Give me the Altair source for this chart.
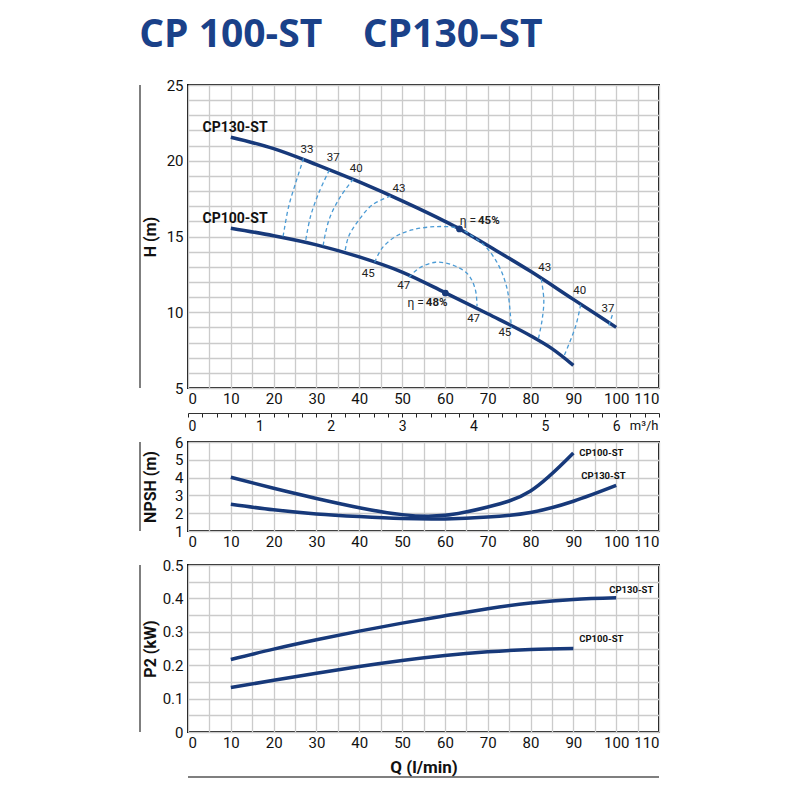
import altair as alt
import pandas as pd

# ---------------- data ----------------
TITLE_TEXT = "CP 100-ST\u00a0\u00a0\u00a0\u00a0CP130\u2013ST"

# Head curves H (m) vs Q (l/min)
Q_130 = [10, 20, 30, 40, 50, 60, 63.4, 70, 80, 90, 100]
H_130 = [21.55, 20.8, 19.75, 18.6, 17.35, 16.0, 15.5, 14.4, 12.7, 10.85, 9.0]
Q_100 = [10, 20, 30, 40, 50, 60, 70, 80, 85, 90]
H_100 = [15.55, 15.05, 14.45, 13.65, 12.65, 11.3, 9.9, 8.45, 7.6, 6.5]

# Iso-efficiency (dashed) curves
ARC_NAMES = ["33", "37", "40", "43a", "45", "47", "43b", "40b", "37b"]
ARC_Q = [
    [27.0, 25.1, 23.5, 22.6, 22.2],
    [33.0, 30.5, 28.6, 27.4],
    [38.6, 35.6, 33.2, 32.1, 31.5],
    [47.3, 43.0, 39.9, 37.5, 36.6],
    [43.6, 45.3, 48.4, 52.3, 57.8, 63.2, 66.5, 69.5, 72.5, 74.5, 75.3, 75.5],
    [51.6, 53.9, 57.8, 62.0, 65.4, 67.1, 67.5],
    [82.5, 83.1, 82.7, 81.8],
    [91.7, 90.5, 87.8],
    [99.1, 98.1],
]
ARC_H = [
    [20.16, 18.5, 16.97, 15.65, 15.0],
    [19.39, 17.85, 16.31, 14.6],
    [18.78, 17.63, 16.31, 15.21, 14.3],
    [17.67, 17.08, 16.09, 14.99, 13.9],
    [13.3, 14.22, 14.99, 15.43, 15.65, 15.54, 15.0, 14.33, 13.12, 11.58, 9.82, 8.94],
    [12.3, 12.9, 13.3, 13.1, 12.5, 11.5, 10.4],
    [12.2, 10.81, 9.49, 8.2],
    [10.5, 9.05, 7.1],
    [9.82, 8.94],
]

# Efficiency labels
EFF_TEXT = ["33", "37", "40", "43", "45", "47", "47", "45", "43", "40", "37"]
EFF_Q = [27.8, 33.9, 39.3, 49.3, 42.1, 50.4, 66.7, 74.0, 83.3, 91.5, 98.1]
EFF_H = [20.7, 20.18, 19.46, 18.13, 12.5, 11.7, 9.53, 8.66, 12.9, 11.4, 10.2]

# Best-efficiency points
BEP_TEXT = ["45%", "48%"]
BEP_Q = [63.4, 60.1]
BEP_H = [15.5, 11.27]
BEP_LABEL_Q = [67.5, 55.3]
BEP_LABEL_H = [16.0, 10.6]

# Curve names in head chart
HEAD_NAMES = ["CP130-ST", "CP100-ST"]
HEAD_NAME_Q = [11, 11]
HEAD_NAME_H = [22.16, 16.15]

# m3/h secondary scale
M3H_TICKS = [round(i * 0.2, 1) for i in range(34)]

# NPSH (m)
Q_NPSH_100 = [10, 20, 30, 40, 50, 60, 70, 80, 90]
NPSH_100 = [4.02, 3.4, 2.83, 2.31, 1.92, 1.88, 2.35, 3.25, 5.38]
Q_NPSH_130 = [10, 20, 30, 40, 50, 60, 70, 80, 90, 100]
NPSH_130 = [2.5, 2.19, 1.96, 1.81, 1.7, 1.68, 1.78, 2.04, 2.67, 3.56]
NPSH_NAMES = ["CP100-ST", "CP130-ST"]
NPSH_NAME_Q = [90.9, 91.4]
NPSH_NAME_V = [5.38, 4.09]

# P2 (kW)
Q_P2_130 = [10, 20, 30, 40, 50, 60, 70, 80, 90, 100]
P2_130 = [0.217, 0.248, 0.276, 0.302, 0.326, 0.348, 0.369, 0.386, 0.397, 0.402]
Q_P2_100 = [10, 20, 30, 40, 50, 60, 70, 80, 90]
P2_100 = [0.133, 0.155, 0.176, 0.196, 0.214, 0.229, 0.24, 0.247, 0.25]
P2_NAMES = ["CP130-ST", "CP100-ST"]
P2_NAME_Q = [97.9, 90.9]
P2_NAME_V = [0.425, 0.278]

# ---------------- styling ----------------
NAVY = "#17397a"
DASH = "#4b9bd5"
TITLE_BLUE = "#1a4189"
FONT = "Roboto"
W = 471
H_TOP, H_NPSH, H_P2 = 303, 89, 167

# ---------------- tables ----------------
df_head = pd.concat([
    pd.DataFrame({"Q": Q_130, "H": H_130, "pump": "CP130-ST"}),
    pd.DataFrame({"Q": Q_100, "H": H_100, "pump": "CP100-ST"}),
])
arc_rows = []
for name, qs, hs in zip(ARC_NAMES, ARC_Q, ARC_H):
    for i, (q, h) in enumerate(zip(qs, hs)):
        arc_rows.append({"arc": name, "ord": i, "Q": q, "H": h})
df_arcs = pd.DataFrame(arc_rows)
df_eff = pd.DataFrame({"t": EFF_TEXT, "Q": EFF_Q, "H": EFF_H})
df_bep = pd.DataFrame({"t": BEP_TEXT, "Q": BEP_Q, "H": BEP_H})
df_bep_lab = pd.DataFrame({"t": BEP_TEXT, "Q": BEP_LABEL_Q, "H": BEP_LABEL_H})
df_hname = pd.DataFrame({"t": HEAD_NAMES, "Q": HEAD_NAME_Q, "H": HEAD_NAME_H})
df_m3h = pd.DataFrame({"m3h": M3H_TICKS})

df_npsh = pd.concat([
    pd.DataFrame({"Q": Q_NPSH_100, "V": NPSH_100, "pump": "CP100-ST"}),
    pd.DataFrame({"Q": Q_NPSH_130, "V": NPSH_130, "pump": "CP130-ST"}),
])
df_npsh_names = pd.DataFrame({"t": NPSH_NAMES, "Q": NPSH_NAME_Q, "V": NPSH_NAME_V})
df_p2 = pd.concat([
    pd.DataFrame({"Q": Q_P2_130, "V": P2_130, "pump": "CP130-ST"}),
    pd.DataFrame({"Q": Q_P2_100, "V": P2_100, "pump": "CP100-ST"}),
])
df_p2_names = pd.DataFrame({"t": P2_NAMES, "Q": P2_NAME_Q, "V": P2_NAME_V})


def x_enc(field="Q", title=None, **kw):
    return alt.X(
        f"{field}:Q",
        scale=alt.Scale(domain=[0, 110], nice=False),
        axis=alt.Axis(
            values=list(range(0, 111, 5)),
            labelExpr="datum.value % 10 === 0 ? datum.label : ''",
            ticks=False, domain=False, grid=True, labelPadding=3,
            title=title, **kw,
        ),
    )


def side_rule(h):
    return alt.Chart(pd.DataFrame({"a": [0]})).mark_rule(color="#555", strokeWidth=1.5).encode(
        x=alt.value(-48), y=alt.value(0), y2=alt.value(h)
    )


# ---------------- head chart ----------------
yH = alt.Y(
    "H:Q",
    scale=alt.Scale(domain=[5, 25], nice=False),
    axis=alt.Axis(
        values=list(range(5, 26)),
        labelExpr="datum.value % 5 === 0 ? datum.label : ''",
        ticks=False, domain=False, grid=True, labelPadding=5,
        title="H (m)", titleX=-38, titleY=H_TOP / 2, titleAngle=270,
        titleAlign="center", titleBaseline="middle",
    ),
)
xH = x_enc()

head_lines = alt.Chart(df_head).mark_line(color=NAVY, strokeWidth=3.5, interpolate="monotone").encode(
    x=xH, y=yH, detail="pump:N"
)
arcs = alt.Chart(df_arcs).mark_line(
    color=DASH, strokeDash=[4, 3], strokeWidth=1.3, interpolate="catmull-rom"
).encode(x=xH, y=yH, detail="arc:N", order="ord:Q")
eff_text = alt.Chart(df_eff).mark_text(fontSize=11.5, font=FONT, color="#222").encode(
    x=xH, y=yH, text="t:N"
)
bep_pts = alt.Chart(df_bep).mark_circle(size=45, color=NAVY, opacity=1).encode(x=xH, y=yH)
bep_eta = alt.Chart(df_bep_lab).mark_text(fontSize=12, font=FONT, color="#222", align="right", dx=-1).encode(
    x=xH, y=yH, text=alt.value("\u03b7 =")
)
bep_val = alt.Chart(df_bep_lab).mark_text(fontSize=11.5, font=FONT, color="#222", align="left", dx=1,
                                          fontWeight="bold").encode(x=xH, y=yH, text="t:N")
hname = alt.Chart(df_hname).mark_text(fontSize=14, font=FONT, fontWeight="bold", color="#111").encode(
    x=xH, y=yH, text="t:N"
)
m3h = alt.Chart(df_m3h).mark_point(opacity=0).encode(
    x=alt.X(
        "m3h:Q",
        scale=alt.Scale(domain=[0, 6.6], nice=False),
        axis=alt.Axis(
            orient="bottom", offset=25, values=M3H_TICKS,
            labelExpr="datum.value % 1 === 0 ? format(datum.value, 'd') : ''",
            ticks=True, tickSize=4, tickColor="#222", domain=True, domainColor="#333",
            domainWidth=1, grid=False, labelPadding=2, labelFontSize=14,
            title="m\u00b3/h", titleX=W - 1, titleY=6, titleAlign="right", titleBaseline="top",
            titleFontWeight="normal", titleFontSize=13,
        ),
    ),
    y=alt.value(0),
)
main_top = alt.layer(head_lines, arcs, bep_pts, eff_text, bep_eta, bep_val, hname, side_rule(H_TOP))
top = alt.layer(main_top, m3h).resolve_scale(x="independent").properties(width=W, height=H_TOP)

# ---------------- NPSH chart ----------------
yN = alt.Y(
    "V:Q",
    scale=alt.Scale(domain=[1, 6], nice=False),
    axis=alt.Axis(
        values=[1, 2, 3, 4, 5, 6], ticks=False, domain=False, grid=True, labelPadding=5,
        title="NPSH (m)", titleX=-38, titleY=H_NPSH / 2, titleAngle=270,
        titleAlign="center", titleBaseline="middle",
    ),
)
xN = x_enc()
npsh_lines = alt.Chart(df_npsh).mark_line(color=NAVY, strokeWidth=3.5, interpolate="natural").encode(
    x=xN, y=yN, detail="pump:N"
)
npsh_names = alt.Chart(df_npsh_names).mark_text(
    fontSize=9.5, font=FONT, fontWeight="bold", color="#111", align="left", dx=2
).encode(x=xN, y=yN, text="t:N")
npsh = alt.layer(npsh_lines, npsh_names, side_rule(H_NPSH)).properties(width=W, height=H_NPSH)

# ---------------- P2 chart ----------------
yP = alt.Y(
    "V:Q",
    scale=alt.Scale(domain=[0, 0.5], nice=False),
    axis=alt.Axis(
        values=[round(i * 0.05, 2) for i in range(11)],
        labelExpr="datum.value === 0 ? '0' : (round(datum.value * 100) % 10 === 0 ? format(datum.value, '.1f') : '')",
        ticks=False, domain=False, grid=True, labelPadding=5,
        title="P2 (kW)", titleX=-38, titleY=H_P2 / 2, titleAngle=270,
        titleAlign="center", titleBaseline="middle",
    ),
)
xP = x_enc(title="Q (l/min)", titleX=W / 2, titleY=35, titleBaseline="middle", titleFontSize=17)
p2_lines = alt.Chart(df_p2).mark_line(color=NAVY, strokeWidth=3.5, interpolate="natural").encode(
    x=xP, y=yP, detail="pump:N"
)
p2_names = alt.Chart(df_p2_names).mark_text(
    fontSize=9.5, font=FONT, fontWeight="bold", color="#111", align="left", dx=2
).encode(x=xP, y=yP, text="t:N")
bottom_rule = alt.Chart(pd.DataFrame({"a": [0]})).mark_rule(color="#555", strokeWidth=1.5).encode(
    x=alt.value(0), x2=alt.value(W), y=alt.value(H_P2 + 45)
)
p2 = alt.layer(p2_lines, p2_names, side_rule(H_P2), bottom_rule).properties(width=W, height=H_P2)

lower = alt.vconcat(npsh, p2, spacing=34, bounds="flush")
chart = alt.vconcat(top, lower, spacing=54, bounds="flush").properties(
    title=alt.TitleParams(
        TITLE_TEXT, anchor="start", fontSize=39, font="Open Sans", fontWeight="bold",
        color=TITLE_BLUE, offset=22, dx=1,
    ),
    padding={"left": 130, "top": 8, "right": 10, "bottom": 10},
).configure_view(
    stroke="#111", strokeWidth=2
).configure_axis(
    gridColor="#cbcbcb", gridWidth=1.3, labelFont=FONT, labelFontSize=15, labelColor="#111",
    titleFont=FONT, titleFontSize=16, titleFontWeight="bold", titleColor="#111",
)

chart.save("out.html", embed_options={"renderer": "svg", "actions": False})
